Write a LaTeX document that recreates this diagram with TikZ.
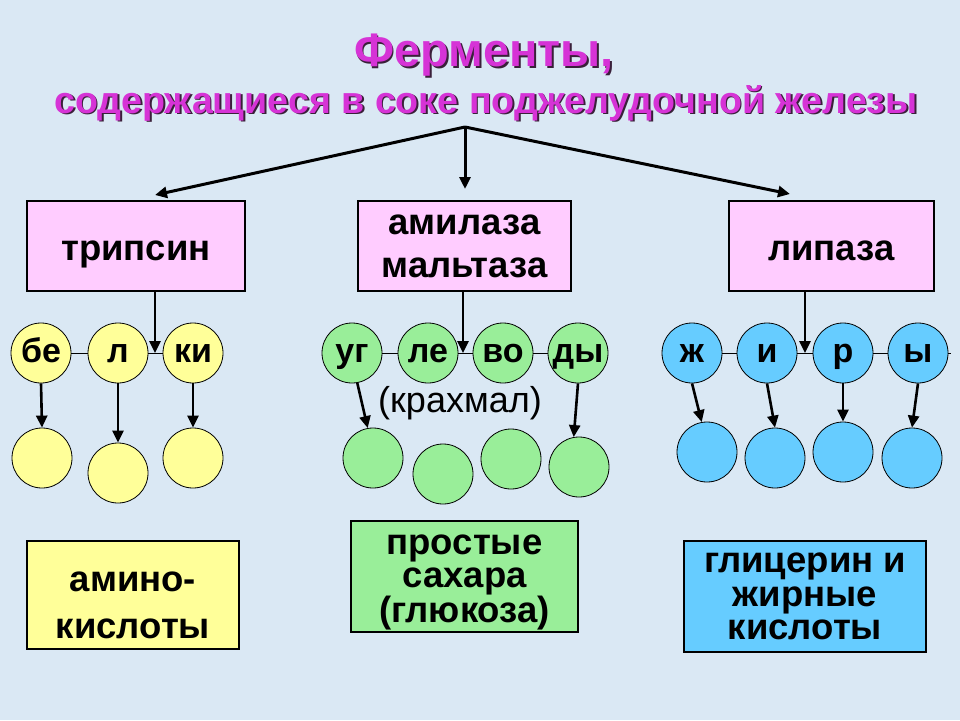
\documentclass[tikz,border=0pt]{standalone}
\usepackage{fontspec}
\setmainfont{Liberation Sans}
\usetikzlibrary{arrows.meta}
\definecolor{bg}{HTML}{DAE8F4}
\definecolor{pinkbox}{HTML}{FFCCFF}
\definecolor{yel}{HTML}{FFFF99}
\definecolor{grn}{HTML}{99EE99}
\definecolor{blu}{HTML}{66CCFF}
\definecolor{mag}{HTML}{D633D6}
\definecolor{shad}{HTML}{3A203A}
\tikzset{
  arr/.style={line width=2.6pt, -{Triangle[length=12pt,width=11pt]}},
  enzbox/.style={draw, line width=2pt, fill=pinkbox, inner sep=0pt, align=center,
    font=\bfseries\fontsize{36.5}{43}\selectfont},
  prodbox/.style={draw, line width=2.2pt, inner sep=0pt, align=center,
    font=\bfseries\fontsize{36.5}{33.5}\selectfont},
  circ/.style={circle, draw, line width=0.8pt, minimum size=60pt, inner sep=0pt,
    font=\bfseries\fontsize{34}{34}\selectfont, text height=18pt, text depth=0pt},
  ttl/.style={font=\bfseries\fontsize{47}{47}\selectfont, inner sep=0pt},
  subttl/.style={font=\bfseries\fontsize{37.6}{37.6}\selectfont, inner sep=0pt},
}
\begin{document}
\begin{tikzpicture}[x=1pt,y=-1pt]
\fill[bg] (0,0) rectangle (960,720);
\useasboundingbox (0,0) rectangle (960,720);

% titles
\node[ttl, text=shad] (tshad) at (485.8,56.8) {Ферменты,};
\node[ttl, text=mag] (title) at (484,55) {Ферменты,};
\node[subttl, text=shad] (sshad) at (487.8,104.8) {содержащиеся в соке поджелудочной железы};
\node[subttl, text=mag] (subtitle) at (486,103) {содержащиеся в соке поджелудочной железы};

% enzyme boxes
\node[enzbox, minimum width=218pt, minimum height=90pt, text height=29pt, text depth=0pt] (tryp) at (136,246) {трипсин};
\node[enzbox, minimum width=213pt, minimum height=90pt] (amyl) at (464.5,246) {амилаза\\мальтаза};
\node[enzbox, minimum width=205pt, minimum height=90pt, text height=29pt, text depth=0pt] (lip) at (831.5,246) {липаза};

% top arrows
\coordinate (top) at (465,127);
\coordinate (ta) at (155,195);
\coordinate (tb) at (465,189);
\coordinate (tc) at (790,194);
\draw[arr, line width=3pt] (top) -- (ta);
\draw[arr, line width=3pt] (top) -- (tb);
\draw[arr, line width=3pt] (top) -- (tc);

% row 1 circles
\node[circ, fill=yel] (c1) at (41,353) {бе};
\node[circ, fill=yel] (c2) at (118,353) {л};
\node[circ, fill=yel] (c3) at (193,353) {ки};
\node[circ, fill=grn] (g1) at (352,353) {уг};
\node[circ, fill=grn] (g2) at (428,353) {ле};
\node[circ, fill=grn] (g3) at (503,353) {во};
\node[circ, fill=grn] (g4) at (578,353) {ды};
\node[circ, fill=blu] (f1) at (692,353) {ж};
\node[circ, fill=blu] (f2) at (767,353) {и};
\node[circ, fill=blu] (f3) at (843,353) {р};
\node[circ, fill=blu] (f4) at (918,353) {ы};
\coordinate (fend) at (951,353);

\draw[line width=0.8pt] (c1.east) -- (c2.west) (c2.east) -- (c3.west);
\draw[line width=0.8pt] (g1.east) -- (g2.west) (g2.east) -- (g3.west) (g3.east) -- (g4.west);
\draw[line width=0.8pt] (f1.east) -- (f2.west) (f2.east) -- (f3.west) (f3.east) -- (f4.west) (f4.east) -- (fend);

% enzyme to substrate arrows
\coordinate (ja) at (155,353);
\coordinate (jb) at (463,353);
\coordinate (jc) at (805,353);
\draw[arr] (tryp.south -| ja) -- (ja);
\draw[arr] (amyl.south -| jb) -- (jb);
\draw[arr] (lip.south -| jc) -- (jc);

\node[font=\fontsize{36}{36}\selectfont, inner sep=0pt] (starch) at (460,403) {(крахмал)};

% row 2 circles
\node[circ, fill=yel] (y1) at (42,458) {};
\node[circ, fill=yel] (y2) at (118,473) {};
\node[circ, fill=yel] (y3) at (193,458) {};
\node[circ, fill=grn] (h1) at (373,458) {};
\node[circ, fill=grn] (h2) at (443,474) {};
\node[circ, fill=grn] (h3) at (511,459) {};
\node[circ, fill=grn] (h4) at (579,467) {};
\node[circ, fill=blu] (b1) at (707,452) {};
\node[circ, fill=blu] (b2) at (775,458) {};
\node[circ, fill=blu] (b3) at (843,452) {};
\node[circ, fill=blu] (b4) at (912,458) {};

\draw[arr] (c1.south) -- (y1.north);
\draw[arr] (c2.south) -- (y2.north);
\draw[arr] (c3.south) -- (y3.north);
\draw[arr] (g1.-80) -- (h1.100);
\draw[arr] (g4.south) -- (h4.100);
\draw[arr] (f1.south) -- (b1.100);
\draw[arr] (f2.south) -- (b2.north);
\draw[arr] (f3.south) -- (b3.north);
\draw[arr] (f4.south) -- (b4.north);

% product boxes
\node[prodbox, fill=yel, minimum width=212pt, minimum height=108pt,
  font=\bfseries\fontsize{36.5}{47}\selectfont] (p1) at (133,595) {\rule{0pt}{40pt}амино-\\кислоты};
\node[prodbox, fill=grn, minimum width=227pt, minimum height=111pt] (p2) at (464.5,576.5) {\rule{0pt}{32pt}простые\\сахара\\(глюкоза)};
\node[prodbox, fill=blu, minimum width=242pt, minimum height=111pt] (p3) at (805,596.5) {глицерин и\\жирные\\кислоты};
\end{tikzpicture}
\end{document}
